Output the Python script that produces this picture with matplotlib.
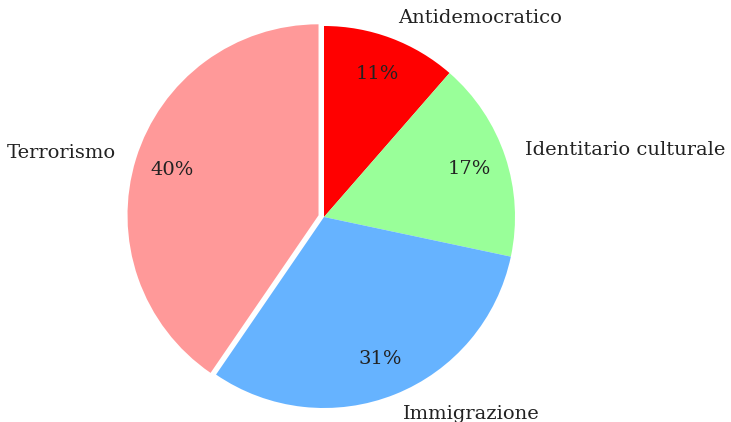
import matplotlib.pyplot as plt

# data
labels = ['Antidemocratico', 'Identitario culturale', 'Immigrazione', 'Terrorismo']
values = [11.4, 16.9, 31.2, 40.4]
colors = ['#ff0000', '#99ff99', '#66b3ff', '#ff9999']
explode = [0, 0, 0, 0.03]

plt.rcParams['font.family'] = ['DejaVu Serif']

fig = plt.figure(figsize=(7.31, 4.22), dpi=100)
ax = fig.add_axes([0, 0, 1, 1])

ax.pie(values, labels=labels, colors=colors, explode=explode,
       autopct='%1.0f%%', pctdistance=0.8, labeldistance=1.11,
       startangle=90, counterclock=False,
       textprops={'fontsize': 14, 'color': '#222222'})

# place pie centre at (324, 217) px with radius ~191 px
r = 191.0
cx, cy = 324.0, 422.0 - 217.0
ax.set_xlim(-cx / r, (731 - cx) / r)
ax.set_ylim(-cy / r, (422 - cy) / r)
ax.set_aspect('auto')
ax.axis('off')

plt.savefig('out.png', dpi=100)
